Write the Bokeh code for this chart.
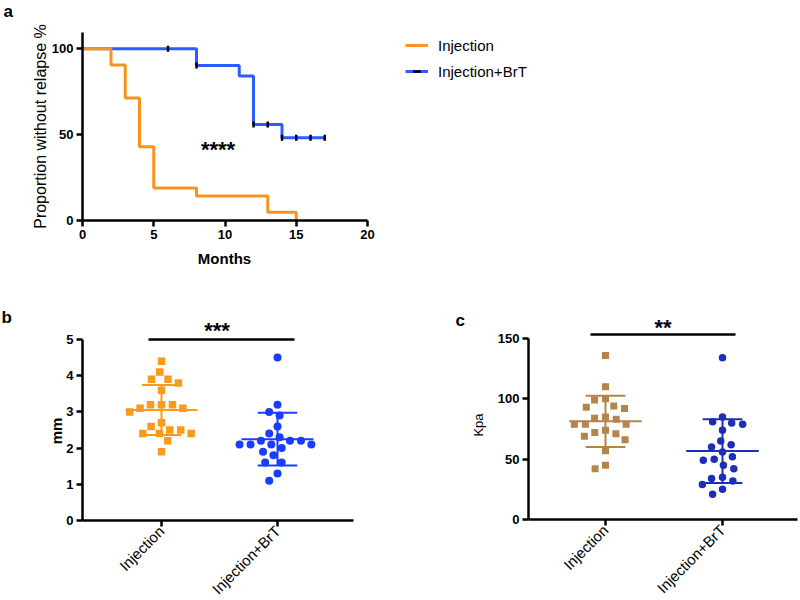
import numpy as np
from bokeh.plotting import figure
from bokeh.layouts import column, row
from bokeh.models import FixedTicker, Legend, LegendItem
from bokeh.embed import file_html
from bokeh.resources import INLINE
from bokeh.core.properties import value

# ---------------- data ----------------
# panel a: Kaplan-Meier curves (months, % without relapse)
km_months_inj = [0, 2, 3, 4, 5, 8, 13, 15]
km_surv_inj = [100, 90.5, 71.4, 42.9, 19.0, 14.3, 4.8, 0]
km_months_brt = [0, 8, 11, 12, 14, 17]
km_surv_brt = [100, 90.3, 84.2, 55.9, 48.2, 48.2]
censor_months_brt = [6, 8, 12, 13, 14, 15, 16, 17]
months_ticks = [0, 5, 10, 15, 20]
surv_ticks = [0, 50, 100]
sig_a = "****"

# panels b and c
groups = ["Injection", "Injection+BrT"]
mm_inj = [4.4, 4.1, 3.9, 3.8, 3.9, 3.6, 3.2, 3.1, 3.0, 3.1, 3.2, 3.2,
          2.6, 2.5, 2.4, 2.4, 2.4, 2.5, 2.7, 2.2, 1.9]
mm_brt = [4.5, 3.2, 2.9, 3.0, 2.6, 2.4, 2.3, 2.2, 2.2, 2.2, 2.1, 2.1,
          2.1, 2.1, 2.0, 1.9, 1.8, 1.6, 1.6, 1.3, 1.1]
mm_ticks = [0, 1, 2, 3, 4, 5]
sig_b = "***"
kpa_inj = [136, 110, 100, 99, 94, 92, 93, 85, 83, 79, 79, 79, 84,
           72, 69, 71, 74, 66, 57, 45, 42]
kpa_brt = [134, 85, 81, 79, 80, 74, 62, 65, 60, 56, 49, 52, 50,
           42, 45, 34, 29, 32, 35, 25, 21]
kpa_ticks = [0, 50, 100, 150]
sig_c = "**"

# ---------------- style ----------------
FONT = "Liberation Sans"
ORANGE_A = "#F7931E"
BLUE_A = "#2B5CFF"
ORANGE_B = "#F99A1C"
BLUE_B = "#1A3DFF"
BROWN_C = "#B5844B"
BLUE_C = "#1E2EB5"


def axis_map(p0, v0, p1, v1):
    """page pixel -> data value (linear)"""
    k = (v1 - v0) / (p1 - p0)
    return (lambda px: v0 + (px - p0) * k), abs(1.0 / k)


def style_axes(p):
    for ax in p.axis:
        ax.axis_line_width = 2.5
        ax.axis_line_color = "black"
        ax.major_tick_line_width = 2.5
        ax.major_tick_line_color = "black"
        ax.major_tick_out = 6
        ax.major_tick_in = 0
        ax.minor_tick_line_color = None
        ax.major_label_text_font = FONT
        ax.major_label_text_font_style = "bold"
        ax.major_label_text_font_size = "13px"
        ax.major_label_text_color = "black"
        ax.major_label_standoff = 3
    p.grid.visible = False
    p.outline_line_color = None
    p.background_fill_color = "white"
    p.border_fill_color = "white"


def add_text(p, x, y, txt, size, bold=False, angle=0.0, align="left", baseline="alphabetic"):
    p.text(x=[x], y=[y], text=[txt], angle=angle, text_font=value(FONT),
           text_font_style="bold" if bold else "normal", text_font_size=size,
           text_align=align, text_baseline=baseline, text_color="black")


def swarm(vals, px_per_y, px_per_x, d=11.0):
    order = sorted(range(len(vals)), key=lambda i: -vals[i])
    placed = []
    off = [0.0] * len(vals)
    for i in order:
        y = vals[i] * px_per_y
        cands = [0.0]
        for (px, py) in placed:
            dy = abs(py - y)
            if dy < d:
                dx = (d * d - dy * dy) ** 0.5
                cands += [px - dx, px + dx]
        ok = [c for c in cands
              if all((c - px) ** 2 + (y - py) ** 2 >= d * d - 1e-6 for px, py in placed)]
        best = min(ok, key=lambda c: (abs(c), c))
        placed.append((best, y))
        off[i] = best / px_per_x
    return off


def step_value(t, months, surv):
    v = surv[0]
    for m, s in zip(months, surv):
        if m <= t:
            v = s
    return v


# ---------------- panel a (page 0..800 x 0..290) ----------------
XA, _ = axis_map(82, 0, 367, 20)
YA, _ = axis_map(220, 0, 48.3, 100)
pa = figure(width=800, height=290, x_range=(XA(0), XA(800)), y_range=(YA(290), YA(0)),
            output_backend="svg", toolbar_location=None, min_border=0)
style_axes(pa)
pa.xaxis.fixed_location = 0
pa.yaxis.fixed_location = 0
pa.xaxis.bounds = (months_ticks[0], months_ticks[-1])
pa.yaxis.bounds = (0, YA(32))
pa.xaxis.ticker = FixedTicker(ticks=months_ticks)
pa.yaxis.ticker = FixedTicker(ticks=surv_ticks)

r_brt = pa.step(km_months_brt, km_surv_brt, mode="after", line_color=BLUE_A, line_width=3)
censor_y = [step_value(t, km_months_brt, km_surv_brt) for t in censor_months_brt]
r_brt_c = pa.scatter(censor_months_brt, censor_y, marker="dash", angle=np.pi / 2, size=6,
                     line_color="black", line_width=2.5)
r_inj = pa.step(km_months_inj, km_surv_inj, mode="after", line_color=ORANGE_A, line_width=3)
r_inj_c = pa.scatter(x=[], y=[], marker="dash", angle=np.pi / 2, size=6,
                     line_color="black", line_width=2.5)

add_text(pa, XA(217.5), YA(149), sig_a, "22px", bold=True, align="center")
add_text(pa, XA(224), YA(258), "Months", "15px", bold=True, align="center", baseline="middle")
add_text(pa, XA(40), YA(126), "Proportion without relapse %", "16px", angle=np.pi / 2,
         align="center", baseline="middle")
add_text(pa, XA(3), YA(11), "a", "17px", bold=True)

legend = Legend(items=[LegendItem(label=groups[0], renderers=[r_inj, r_inj_c]),
                       LegendItem(label=groups[1], renderers=[r_brt, r_brt_c])],
                location=(405, 290 - 81), padding=0, margin=0, spacing=6,
                glyph_width=23, glyph_height=20, label_height=20, label_standoff=10,
                label_text_font=FONT, label_text_font_size="15px", label_text_color="black",
                border_line_alpha=0, background_fill_alpha=0)
pa.add_layout(legend)


# ---------------- panels b / c ----------------
def dot_panel(left, values_a, values_b, ticks, sig, ylabel, label_bold, label_size, label_xy,
              colors, markers, sizes, cat_px, zero_px, top_px, axis_left_px, axis_right_px,
              sig_px, letter, letter_xy):
    top_page = 290
    X, sx = axis_map(cat_px[0], 1, cat_px[1], 2)
    Y, sy = axis_map(zero_px, 0, top_px, ticks[-1])
    p = figure(width=400, height=310, x_range=(X(left), X(left + 400)),
               y_range=(Y(top_page + 310), Y(top_page)),
               output_backend="svg", toolbar_location=None, min_border=0)
    style_axes(p)
    p.xaxis.fixed_location = 0
    p.yaxis.fixed_location = X(axis_left_px)
    p.xaxis.bounds = (X(axis_left_px), X(axis_right_px))
    p.yaxis.bounds = (ticks[0], ticks[-1])
    p.yaxis.ticker = FixedTicker(ticks=ticks)
    p.xaxis.ticker = FixedTicker(ticks=[1, 2])
    p.xaxis.major_label_overrides = {1: groups[0], 2: groups[1]}
    p.xaxis.major_label_orientation = np.pi / 4
    p.xaxis.major_label_text_font_style = "normal"
    p.xaxis.major_label_text_font_size = "15px"
    p.xaxis.major_label_standoff = 2

    for k, vals in enumerate([values_a, values_b]):
        xc = k + 1
        off = swarm(vals, sy, sx)
        p.scatter(x=[xc + o for o in off], y=vals, marker=markers[k], size=sizes[k],
                  fill_color=colors[k], line_color=None)
        m = float(np.mean(vals))
        s = float(np.std(vals, ddof=1))
        hw_m, hw_s = 0.31, 0.17
        p.segment(x0=[xc - hw_m, xc - hw_s, xc - hw_s, xc],
                  y0=[m, m + s, m - s, m - s],
                  x1=[xc + hw_m, xc + hw_s, xc + hw_s, xc],
                  y1=[m, m + s, m - s, m + s],
                  line_color=colors[k], line_width=2)
    # significance bar
    x0s, x1s, ys, xt, yt = sig_px
    p.segment(x0=[X(x0s)], y0=[Y(ys)], x1=[X(x1s)], y1=[Y(ys)], line_color="black", line_width=2.5)
    add_text(p, X(xt), Y(yt), sig, "22px", bold=True, align="center")
    # axis title and panel letter
    add_text(p, X(label_xy[0]), Y(label_xy[1]), ylabel, label_size, bold=label_bold,
             angle=np.pi / 2, align="center", baseline="middle")
    add_text(p, X(letter_xy[0]), Y(letter_xy[1]), letter, "17px", bold=True)
    return p


pb = dot_panel(0, mm_inj, mm_brt, mm_ticks, sig_b, "mm", True, "15px", (55.5, 430.5),
               [ORANGE_B, BLUE_B], ["square", "circle"], [7.5, 8],
               (161, 277), 520, 339, 82, 353,
               (148, 294, 339, 216.5, 329.5), "b", (1, 317))
pc = dot_panel(400, kpa_inj, kpa_brt, kpa_ticks, sig_c, "Kpa", False, "13px", (477.5, 424.5),
               [BROWN_C, BLUE_C], ["square", "circle"], [7, 7.5],
               (605, 722), 519, 338, 528, 797,
               (590, 735, 334, 662.5, 327), "c", (455, 320))

layout = column(pa, row(pb, pc))
open("out.html", "w").write(file_html(layout, INLINE))
